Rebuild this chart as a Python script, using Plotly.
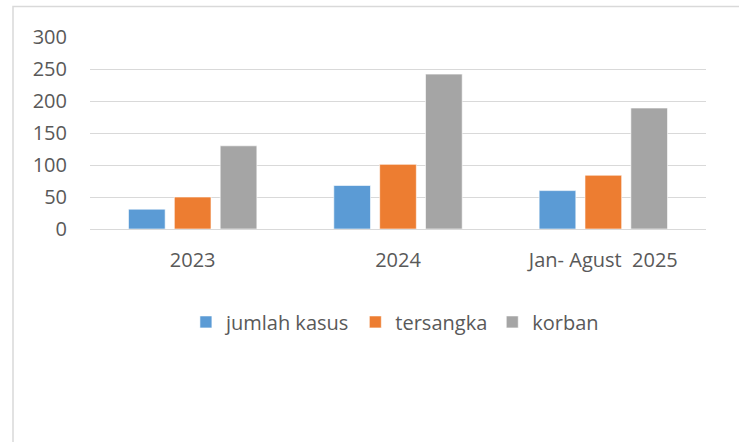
import plotly.graph_objects as go

categories = ["2023", "2024", "Jan- Agust  2025"]
jumlah_kasus = [31, 68, 60]
tersangka = [50, 101, 84]
korban = [130, 242, 189]
y_ticks = [0, 50, 100, 150, 200, 250, 300]

series = [
    ("jumlah kasus", jumlah_kasus, "#5B9BD5"),
    ("tersangka", tersangka, "#ED7D31"),
    ("korban", korban, "#A5A5A5"),
]

FONT = "Open Sans, Liberation Sans, sans-serif"
TXT = "#595959"

fig = go.Figure()
for name, vals, col in series:
    fig.add_trace(go.Bar(
        x=categories, y=vals, name=name,
        marker=dict(color=col, line=dict(color="rgba(255,255,255,0.6)", width=1)),
    ))

fig.update_layout(
    width=739, height=442,
    margin=dict(l=90, r=33, t=37, b=213),
    paper_bgcolor="white", plot_bgcolor="white",
    barmode="group", bargap=0.33, bargroupgap=0.2,
    font=dict(family=FONT, size=20, color=TXT),
    showlegend=True,
    legend=dict(orientation="h", x=0.495, xanchor="center", y=-0.484, yanchor="middle",
                font=dict(family=FONT, size=20, color=TXT), itemwidth=30,
                traceorder="normal"),
    shapes=[dict(type="rect", xref="paper", yref="paper",
                 x0=(13 - 90) / 616, x1=(760 - 90) / 616,
                 y0=(229 - 470) / 192, y1=(229 - 6.5) / 192,
                 line=dict(color="#D9D9D9", width=1.5), fillcolor="rgba(0,0,0,0)", layer="below")],
)
fig.update_xaxes(showgrid=False, showline=True, linecolor="#D9D9D9", linewidth=1,
                 ticks="", tickfont=dict(size=20, color=TXT), ticklabelstandoff=13)
fig.update_yaxes(range=[0, 300], tickvals=y_ticks, showgrid=True, gridcolor="#D9D9D9", gridwidth=1,
                 zeroline=False, showline=False, ticks="", tickfont=dict(size=20, color=TXT),
                 ticklabelstandoff=22)

fig.write_html("out.html", config={"displayModeBar": False},
               post_script="document.body.style.margin='0';")
